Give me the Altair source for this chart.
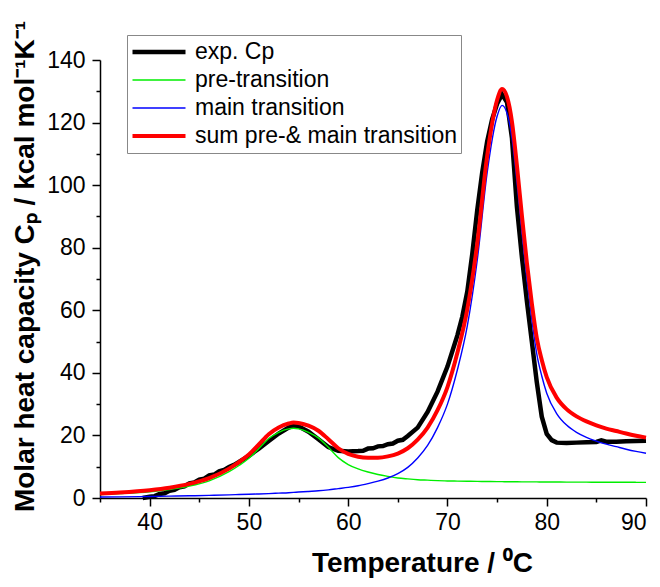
import altair as alt
import pandas as pd

SERIES = ["exp. Cp", "pre-transition", "main transition", "sum pre-& main transition"]
COLORS = ["#000000", "#00ee00", "#0000ff", "#ff0000"]
WIDTHS = [4.5, 1.4, 1.4, 4.0]

# experimental Cp curve
T_exp = [39.3, 40, 40.5, 41, 41.5, 42, 42.5, 43, 43.5, 44, 44.5, 45, 45.5, 46, 46.5, 47, 47.5,
         48, 48.5, 49, 49.5, 50, 51, 52, 53, 54, 54.5, 55, 56, 57, 58, 59, 60, 61, 61.5, 62,
         62.5, 63, 63.5, 64, 64.5, 65, 65.5, 66, 67, 68, 69, 70, 71, 71.5, 72, 72.5, 73, 73.5,
         74, 74.5, 75, 75.5, 76, 76.5, 77, 77.5, 78, 78.5, 79, 79.5, 80, 80.5, 81, 82, 83, 84,
         85, 85.5, 86, 87, 88, 89, 90]
Cp_exp = [0.0, 0.4, 0.6, 1.3, 1.5, 2.3, 2.6, 3.4, 3.7, 4.7, 5.0, 5.9, 6.2, 7.2, 7.5, 8.5, 9.0,
          9.9, 10.6, 11.5, 12.5, 13.5, 15.8, 18.2, 20.6, 22.5, 23.2, 22.9, 21.2, 18.8, 16.3, 15.1,
          14.9, 15.0, 15.1, 15.8, 15.9, 16.5, 16.6, 17.2, 17.4, 18.3, 18.6, 19.8, 22.5, 27.5, 34,
          42, 52, 58, 66, 78, 92, 104, 114, 121, 126, 129, 126.5, 115, 93, 77, 63, 50, 37, 26,
          20.5, 18.5, 17.7, 17.6, 17.7, 17.8, 17.9, 18.4, 18.0, 18.0, 18.1, 18.2, 18.3]

# fitted curves
T_fit = [35, 37, 40, 42, 44, 46, 48, 49, 50, 51, 52, 53, 54, 54.5, 55, 56, 57, 58, 59, 60, 61,
         62, 63, 64, 65, 66, 67, 68, 69, 70, 71, 72, 73, 74, 75, 75.5, 76, 76.5, 77, 77.5, 78,
         78.5, 79, 79.5, 80, 81, 82, 83, 84, 85, 86, 87, 88, 89, 90]
Cp_pre = [1.1, 1.4, 2.0, 2.7, 3.8, 5.5, 8.4, 10.4, 12.7, 15.8, 19.0, 21.0, 22.1, 22.3, 22.1, 21.0,
          19.2, 16.2, 12.9, 10.7, 9.3, 8.3, 7.5, 6.9, 6.4, 6.1, 5.85, 5.7, 5.55, 5.45, 5.4, 5.35,
          5.3, 5.27, 5.24, 5.22, 5.2, 5.19, 5.18, 5.17, 5.16, 5.15, 5.14, 5.13, 5.12, 5.1, 5.08,
          5.07, 5.06, 5.05, 5.04, 5.03, 5.02, 5.01, 5.0]
Cp_main = [0.3, 0.35, 0.5, 0.6, 0.7, 0.85, 1.0, 1.1, 1.2, 1.3, 1.4, 1.55, 1.7, 1.8, 1.9, 2.1, 2.3,
           2.6, 3.0, 3.4, 3.9, 4.6, 5.4, 6.4, 7.8, 9.8, 12.8, 16.8, 22.5, 30, 41, 55, 76, 104, 122,
           125.5, 123, 115, 101, 85, 70, 57, 46, 39, 33.5, 27, 23.3, 21, 19.4, 18.2, 17.2, 16.4,
           15.6, 14.9, 14.3]
Cp_sum = [1.4, 1.75, 2.5, 3.3, 4.5, 6.35, 9.4, 11.5, 13.9, 17.1, 20.4, 22.55, 23.8, 24.1, 24.0,
          23.1, 21.5, 18.8, 15.9, 14.1, 13.2, 12.9, 12.9, 13.3, 14.2, 15.9, 18.65, 22.5, 28.05,
          35.45, 46.4, 60.35, 81.3, 109.3, 127.2, 130.7, 128.2, 120.2, 106.2, 90.2, 75.2, 62.2,
          51.1, 44.1, 38.6, 32.1, 28.4, 26.1, 24.5, 23.25, 22.2, 21.4, 20.6, 19.9, 19.3]

exp_df = pd.DataFrame({"T": T_exp, "Cp": Cp_exp, "series": SERIES[0]})
fit_df = pd.concat([
    pd.DataFrame({"T": T_fit, "Cp": Cp_pre, "series": SERIES[1]}),
    pd.DataFrame({"T": T_fit, "Cp": Cp_main, "series": SERIES[2]}),
    pd.DataFrame({"T": T_fit, "Cp": Cp_sum, "series": SERIES[3]}),
], ignore_index=True)

FONT = "Liberation Sans"

legend = alt.Legend(
    title=None, orient="none", legendX=27, legendY=-25,
    strokeColor="#888888", fillColor="white", padding=3,
    symbolType="stroke", symbolSize=2809, clipHeight=28,
    labelFont=FONT, labelFontSize=23, labelColor="black",
    labelOffset=7, labelLimit=0, rowPadding=0,
)

x = alt.X("T:Q", scale=alt.Scale(domain=[35, 90], nice=False, zero=False),
          axis=alt.Axis(
              values=list(range(35, 91, 5)),
              labelExpr="datum.value % 10 === 0 ? datum.label : ''",
              tickSize={"condition": {"test": "datum.value % 10 === 0", "value": 8}, "value": 4},
              labelPadding=5,
              title="Temperature / \u2070C", titleX=322, titleY=73, titleFontSize=28,
              titleAlign="center", titleBaseline="alphabetic",
          ))
y = alt.Y("Cp:Q", scale=alt.Scale(domain=[0, 140], nice=False),
          axis=alt.Axis(
              values=list(range(0, 141, 10)),
              labelExpr="datum.value % 20 === 0 ? datum.label : ''",
              tickSize={"condition": {"test": "datum.value % 20 === 0", "value": 8}, "value": 4},
              labelPadding=7,
              title="Molar heat capacity C\u209a / kcal mol\u207b\u00b9K\u207b\u00b9",
              titleX=-75, titleY=206, titleAngle=270, titleFontSize=28,
              titleAlign="center", titleBaseline="middle",
          ))
color = alt.Color("series:N", scale=alt.Scale(domain=SERIES, range=COLORS), legend=legend)
sw = alt.StrokeWidth("series:N",
                     scale=alt.Scale(type="ordinal", domain=SERIES, range=WIDTHS),
                     legend=legend)

exp_layer = alt.Chart(exp_df).mark_line(interpolate="linear").encode(
    x=x, y=y, color=color, strokeWidth=sw)
fit_layer = alt.Chart(fit_df).mark_line(interpolate="monotone").encode(
    x=x, y=y, color=color, strokeWidth=sw)

chart = alt.layer(exp_layer, fit_layer).properties(
    width=546, height=438,
    autosize=alt.AutoSizeParams(type="none"),
    padding={"left": 92, "top": 52, "right": 6, "bottom": 81},
).configure_view(stroke=None).configure_axis(
    domainColor="black", domainWidth=1.5, tickColor="black", tickWidth=1.5,
    labelFont=FONT, labelFontSize=23, labelColor="black",
    titleFont=FONT, titleFontWeight="bold", titleColor="black",
    grid=False,
)

chart.save("out.html", embed_options={"renderer": "svg", "actions": False})
